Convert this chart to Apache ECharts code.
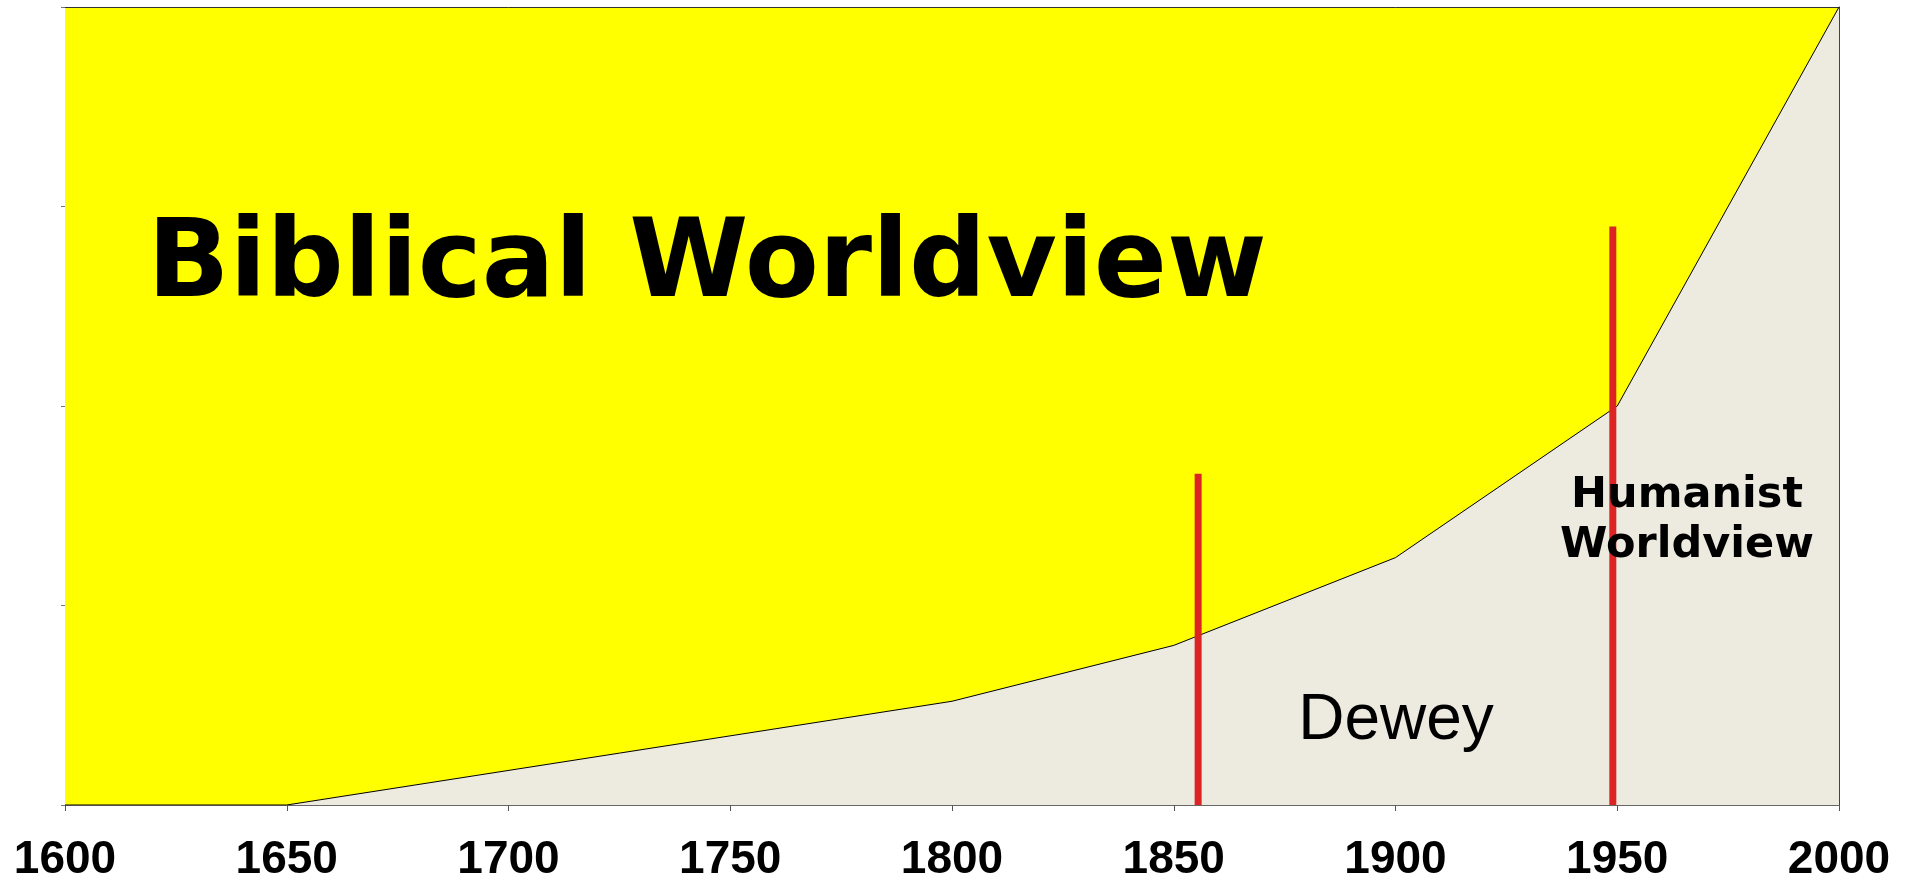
<!DOCTYPE html>
<html>
<head>
<meta charset="utf-8">
<title>Worldview</title>
<script src="https://cdn.jsdelivr.net/npm/echarts@6/dist/echarts.min.js"></script>
<style>
    html, body { margin: 0; padding: 0; background: #fff; }
    #chart { width: 1912px; height: 883px; }
</style>
</head>
<body>
<div id="chart"></div>
<script>
// share of the humanist worldview (percent of the full height) per year
const years = [1600, 1650, 1800, 1850, 1900, 1950, 2000]
const humanistShare = [0, 0, 13, 20, 31, 50, 100]

// red marker lines: [year, top value]
const deweyMarker = [1855.5, 41.5]
const humanistMarker = [1949, 72.5]

const humanistData = years.map((y, i) => [y, humanistShare[i]])

const markerSeries = (m) => ({
    type: 'line',
    data: [[m[0], 0], [m[0], m[1]]],
    symbol: 'none',
    silent: true,
    z: 5,
    lineStyle: { color: '#DC2424', width: 7, cap: 'butt' }
})

const chart = echarts.init(document.getElementById('chart'))

const option = {
    animation: false,
    // the biblical part is everything above the humanist area -> yellow grid
    grid: {
        left: 65, right: 73, top: 7, bottom: 78,
        show: true, backgroundColor: '#FFFF00', borderWidth: 0
    },
    xAxis: [{
        type: 'value',
        min: 1600,
        max: 2000,
        interval: 50,
        axisLine: { lineStyle: { color: '#666', width: 1 } },
        axisTick: { show: true, length: 6, lineStyle: { color: '#555' } },
        splitLine: { show: false },
        axisLabel: {
            margin: 32,
            color: '#000',
            fontFamily: 'Liberation Sans',
            fontWeight: 'bold',
            fontSize: 46,
            formatter: v => String(v),
            showMinLabel: true,
            showMaxLabel: true
        }
    }, {
        // top border
        type: 'value',
        position: 'top',
        min: 1600,
        max: 2000,
        axisLine: { show: true, onZero: false, lineStyle: { color: '#333' } },
        axisTick: { show: false },
        axisLabel: { show: false },
        splitLine: { show: false }
    }],
    yAxis: [{
        type: 'value',
        min: 0,
        max: 100,
        interval: 25,
        axisLine: { show: false },
        axisTick: { show: true, length: 4, lineStyle: { color: '#777' } },
        axisLabel: { show: false },
        splitLine: { show: false }
    }, {
        // right border
        type: 'value',
        position: 'right',
        min: 0,
        max: 100,
        axisLine: { show: true, onZero: false, lineStyle: { color: '#444' } },
        axisTick: { show: false },
        axisLabel: { show: false },
        splitLine: { show: false }
    }],
    series: [
        {
            name: 'Humanist',
            type: 'line',
            data: humanistData,
            symbol: 'none',
            lineStyle: { color: '#000', width: 1 },
            areaStyle: { color: '#EDEAE0', opacity: 1 },
            z: 3
        },
        markerSeries(deweyMarker),
        markerSeries(humanistMarker)
    ],
    graphic: [
        {
            type: 'text', x: 707, y: 268, z: 10,
            style: {
                text: 'Biblical Worldview', align: 'center', verticalAlign: 'middle',
                font: 'bold 108px "DejaVu Sans"', fill: '#000'
            }
        },
        {
            type: 'text', x: 1687, y: 496, z: 10,
            style: {
                text: 'Humanist', align: 'center', verticalAlign: 'middle',
                font: 'bold 43px "DejaVu Sans"', fill: '#000'
            }
        },
        {
            type: 'text', x: 1687, y: 546, z: 10,
            style: {
                text: 'Worldview', align: 'center', verticalAlign: 'middle',
                font: 'bold 43px "DejaVu Sans"', fill: '#000'
            }
        },
        {
            type: 'text', x: 1396, y: 721, z: 10,
            style: {
                text: 'Dewey', align: 'center', verticalAlign: 'middle',
                font: '64px "Liberation Sans"', fill: '#000'
            }
        }
    ]
}

chart.setOption(option)
</script>
</body>
</html>
